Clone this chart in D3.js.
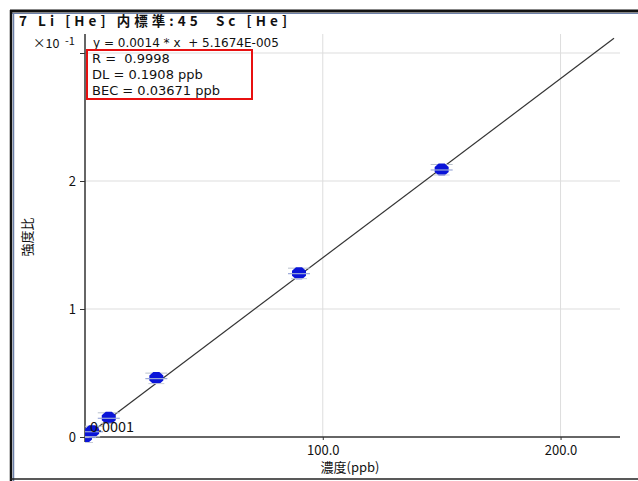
<!DOCTYPE html>
<html>
<head>
<meta charset="utf-8">
<script src="https://cdn.jsdelivr.net/npm/d3@7"></script>
<style>
  body { margin: 0; background: #fff; }
  text { font-family: "Noto Sans CJK JP", sans-serif; fill: #111; white-space: pre; }
  .lat { font-family: "DejaVu Sans", sans-serif; }
</style>
</head>
<body>
<svg id="chart" width="638" height="481"></svg>
<script>
// calibration standards (concentration, ppb) and measured intensity ratio (x10^-1)
const concentrations = [0, 3, 10, 30, 90, 150];
const ratios = [0.0, 0.045, 0.15, 0.46, 1.28, 2.09];
const yTicks = [0, 1, 2, 3];
const xTicks = [100, 200];
const slope = 0.0014;      // per ppb (unscaled)
const intercept = 5.1674e-5;
const statLines = ["R =  0.9998", "DL = 0.1908 ppb", "BEC = 0.03671 ppb"];

const svg = d3.select("#chart");

// window frame
svg.append("line").attr("x1", 10).attr("y1", 11).attr("x2", 638).attr("y2", 11)
  .attr("stroke", "#111").attr("stroke-width", 3);
svg.append("line").attr("x1", 10).attr("y1", 13.5).attr("x2", 638).attr("y2", 13.5)
  .attr("stroke", "#6b7fa8").attr("stroke-width", 1.2);
svg.append("line").attr("x1", 11).attr("y1", 10).attr("x2", 11).attr("y2", 481)
  .attr("stroke", "#111").attr("stroke-width", 2.5);
svg.append("line").attr("x1", 13.5).attr("y1", 13).attr("x2", 13.5).attr("y2", 481)
  .attr("stroke", "#6b7fa8").attr("stroke-width", 1.5);
svg.append("line").attr("x1", 10).attr("y1", 479).attr("x2", 638).attr("y2", 479)
  .attr("stroke", "#222").attr("stroke-width", 1.5);

const x = d3.scaleLinear().domain([0, 225]).range([85, 620]);
const y = d3.scaleLinear().domain([0, 3]).range([437, 53]);
const yTop = 34;

// grid
svg.append("g").selectAll("line").data(yTicks.filter(d => d > 0)).join("line")
  .attr("x1", x(0)).attr("x2", x(225)).attr("y1", d => y(d)).attr("y2", d => y(d))
  .attr("stroke", "#ddd");
svg.append("g").selectAll("line").data(xTicks).join("line")
  .attr("x1", d => x(d)).attr("x2", d => x(d)).attr("y1", yTop).attr("y2", y(0))
  .attr("stroke", "#ddd");

// fit line
const fit = c => (slope * c + intercept) * 10;
const xMax = x.invert(614);
svg.append("line")
  .attr("x1", x(0)).attr("y1", y(fit(0)))
  .attr("x2", x(xMax)).attr("y2", y(fit(xMax)))
  .attr("stroke", "#333").attr("stroke-width", 1.2);

// axes
svg.append("line").attr("x1", x(0)).attr("x2", x(225)).attr("y1", y(0)).attr("y2", y(0))
  .attr("stroke", "#333").attr("stroke-width", 1.5);
svg.append("line").attr("x1", x(0)).attr("x2", x(0)).attr("y1", yTop).attr("y2", y(0) + 5)
  .attr("stroke", "#333").attr("stroke-width", 1.5);

const yAxis = d3.axisLeft(y).tickValues(yTicks).tickSize(5)
  .tickFormat(d => d === 3 ? "" : d3.format("d")(d));
const gy = svg.append("g").attr("transform", `translate(${x(0)},0)`).call(yAxis);
gy.select(".domain").remove();
gy.selectAll("line").attr("stroke", "#333");
gy.selectAll("text").attr("font-size", 13).attr("dx", -1).attr("fill", "#111")
  .attr("font-family", "Noto Sans CJK JP");

const xAxis = d3.axisBottom(x).tickValues(xTicks).tickSize(3).tickFormat(d3.format(".1f"));
const gx = svg.append("g").attr("transform", `translate(0,${y(0)})`).call(xAxis);
gx.select(".domain").remove();
gx.selectAll("line").attr("stroke", "#333");
gx.selectAll("text").attr("font-size", 13).attr("dy", "0.9em").attr("fill", "#111")
  .attr("font-family", "Noto Sans CJK JP");

// markers
const clip = svg.append("clipPath").attr("id", "plot");
clip.append("rect").attr("x", x(0)).attr("y", yTop).attr("width", 540).attr("height", y(0) - yTop + 6);
const pts = svg.append("g").attr("clip-path", "url(#plot)")
  .selectAll("g").data(concentrations.map((c, i) => [c, ratios[i]])).join("g")
  .attr("transform", d => `translate(${x(d[0])},${y(d[1])})`);
pts.append("line").attr("x1", -11).attr("x2", 11).attr("y1", -5).attr("y2", -5)
  .attr("stroke", "#b8c0cc").attr("stroke-width", 1);
pts.append("path")
  .attr("d", "M-3,-6 L3,-6 L7,-2.5 L7,2.5 L3,6 L-3,6 L-7,2.5 L-7,-2.5 Z")
  .attr("fill", "#0a14d8");
pts.append("line").attr("x1", -11).attr("x2", 11).attr("y1", 0.5).attr("y2", 0.5)
  .attr("stroke", "#9aa8d8").attr("stroke-width", 1.2);
pts.append("line").attr("x1", -8).attr("x2", 8).attr("y1", 5.5).attr("y2", 5.5)
  .attr("stroke", "#c8ccd8").attr("stroke-width", 1);

svg.append("text").attr("x", 90).attr("y", 432).attr("font-size", 13.5)
  .attr("textLength", 44).attr("lengthAdjust", "spacingAndGlyphs").text("0.0001");

// title and equation
svg.append("text").attr("x", 19).attr("y", 26).attr("font-size", 13.5)
  .attr("font-weight", "bold").attr("textLength", 268).attr("lengthAdjust", "spacing")
  .text("7 Li [He] 内標準:45  Sc [He]");
const mult = svg.append("text").attr("x", 33).attr("y", 48).attr("font-size", 12.5);
mult.append("tspan").text("×10  ");
mult.append("tspan").attr("dy", -3).attr("font-size", 11).text("-1");
svg.append("text").attr("class", "lat").attr("x", 93).attr("y", 47).attr("font-size", 12)
  .text(`y = ${slope} * x  + ${intercept.toExponential(4).replace("e-5", "E-005")}`);

// stats box
svg.append("rect").attr("x", 87).attr("y", 50).attr("width", 165).attr("height", 49)
  .attr("fill", "none").attr("stroke", "#e81010").attr("stroke-width", 2);
svg.append("g").selectAll("text").data(statLines).join("text")
  .attr("class", "lat")
  .attr("x", 92).attr("y", (d, i) => 63 + i * 16).attr("font-size", 13).text(d => d);

// axis titles
svg.append("text").attr("x", 350).attr("y", 472).attr("text-anchor", "middle")
  .attr("font-size", 13).text("濃度(ppb)");
svg.append("text").attr("transform", "translate(32,237) rotate(-90)")
  .attr("text-anchor", "middle").attr("font-size", 13).text("強度比");
</script>
</body>
</html>
